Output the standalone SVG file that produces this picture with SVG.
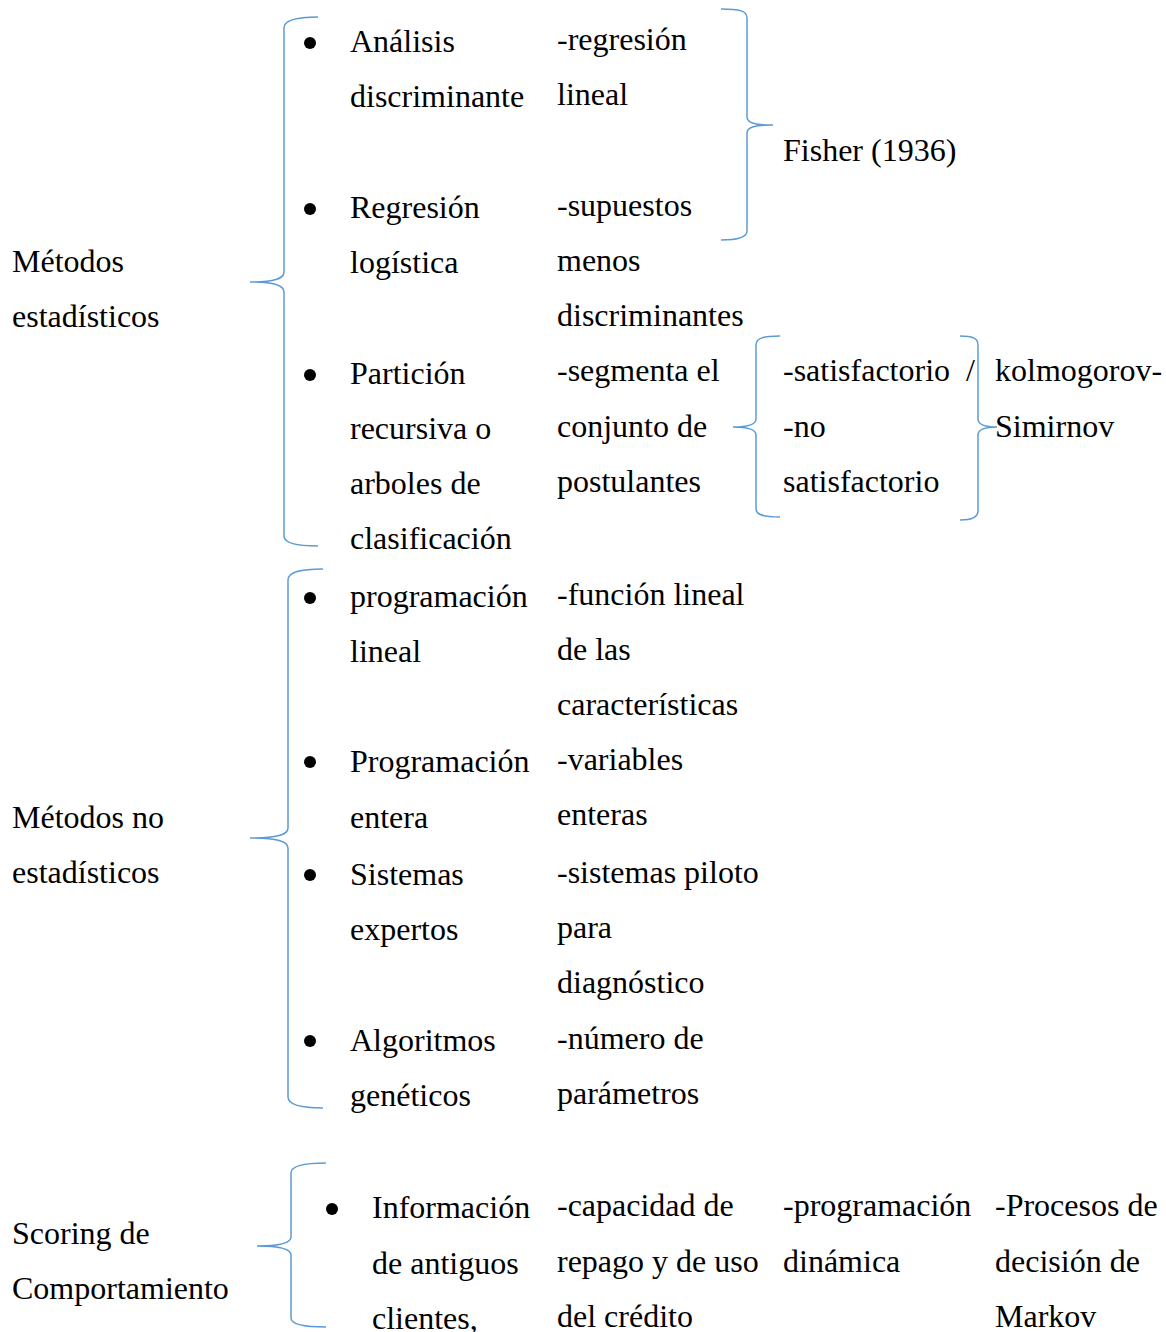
<svg xmlns="http://www.w3.org/2000/svg" width="1166" height="1332" viewBox="0 0 1166 1332">
<style>
text{font-family:"Liberation Serif","Times New Roman",serif;font-size:32px;fill:#000}
.br{fill:none;stroke:#5B9BD5;stroke-width:1.5}
.dot{fill:#000}
</style>
<rect width="1166" height="1332" fill="#fff"/>
<g id="connectors">
<path class="br" d="M318,17 C296,17 284,20 284,28 L284,272 C284,279 274,282 250,282 C274,282 284,285 284,292 L284,536 C284,543 296,546 318,546"/>
<path class="br" d="M721,9 C740,9 747,11 747,18 L747,117 C747,123 755,125 773,125 C755,125 747,127 747,133 L747,231 C747,237 740,240 721,240"/>
<path class="br" d="M780,336 C764,336 756,338 756,345 L756,419 C756,424 748,427 733,427 C748,427 756,430 756,435 L756,509 C756,515 764,517 780,517"/>
<path class="br" d="M960,336 C972,336 978,338 978,345 L978,419 C978,424 984,427 997,427 C984,427 978,430 978,435 L978,511 C978,517 972,520 960,520"/>
<path class="br" d="M323,569 C300,569 288,572 288,580 L288,828 C288,835 277,838 250,838 C277,838 288,841 288,848 L288,1097 C288,1104 300,1108 323,1108"/>
<path class="br" d="M326,1163 C303,1163 291,1166 291,1173 L291,1237 C291,1243 281,1246 257,1246 C281,1246 291,1249 291,1255 L291,1318 C291,1324 303,1327 326,1327"/>
</g>
<g id="metodos-estadisticos">
<text x="12" y="272">Métodos</text>
<text x="12" y="327">estadísticos</text>
</g>
<g id="analisis-discriminante">
<circle class="dot" cx="310" cy="43" r="6"/>
<text x="350" y="52">Análisis</text>
<text x="350" y="107">discriminante</text>
<text x="557" y="50">-regresión</text>
<text x="557" y="105">lineal</text>
</g>
<g id="fisher">
<text x="783" y="161">Fisher (1936)</text>
</g>
<g id="regresion-logistica">
<circle class="dot" cx="310" cy="209" r="6"/>
<text x="350" y="218">Regresión</text>
<text x="350" y="273">logística</text>
<text x="557" y="216">-supuestos</text>
<text x="557" y="271">menos</text>
<text x="557" y="326">discriminantes</text>
</g>
<g id="particion-recursiva">
<circle class="dot" cx="310" cy="375" r="6"/>
<text x="350" y="384">Partición</text>
<text x="350" y="439">recursiva o</text>
<text x="350" y="494">arboles de</text>
<text x="350" y="549">clasificación</text>
<text x="557" y="381">-segmenta el</text>
<text x="557" y="437">conjunto de</text>
<text x="557" y="492">postulantes</text>
</g>
<g id="satisfactorio">
<text x="783" y="381">-satisfactorio</text>
<text x="966" y="381">/</text>
<text x="783" y="437">-no</text>
<text x="783" y="492">satisfactorio</text>
</g>
<g id="kolmogorov">
<text x="995" y="381">kolmogorov-</text>
<text x="995" y="437">Simirnov</text>
</g>
<g id="metodos-no-estadisticos">
<text x="12" y="828">Métodos no</text>
<text x="12" y="883">estadísticos</text>
</g>
<g id="programacion-lineal">
<circle class="dot" cx="310" cy="598" r="6"/>
<text x="350" y="607">programación</text>
<text x="350" y="662">lineal</text>
<text x="557" y="605">-función lineal</text>
<text x="557" y="660">de las</text>
<text x="557" y="715">características</text>
</g>
<g id="programacion-entera">
<circle class="dot" cx="310" cy="762" r="6"/>
<text x="350" y="772">Programación</text>
<text x="350" y="828">entera</text>
<text x="557" y="770">-variables</text>
<text x="557" y="825">enteras</text>
</g>
<g id="sistemas-expertos">
<circle class="dot" cx="310" cy="875" r="6"/>
<text x="350" y="885">Sistemas</text>
<text x="350" y="940">expertos</text>
<text x="557" y="883">-sistemas piloto</text>
<text x="557" y="938">para</text>
<text x="557" y="993">diagnóstico</text>
</g>
<g id="algoritmos-geneticos">
<circle class="dot" cx="310" cy="1041" r="6"/>
<text x="350" y="1051">Algoritmos</text>
<text x="350" y="1106">genéticos</text>
<text x="557" y="1049">-número de</text>
<text x="557" y="1104">parámetros</text>
</g>
<g id="scoring-comportamiento">
<text x="12" y="1244">Scoring de</text>
<text x="12" y="1299">Comportamiento</text>
</g>
<g id="informacion-antiguos-clientes">
<circle class="dot" cx="332" cy="1209" r="6"/>
<text x="372" y="1218">Información</text>
<text x="372" y="1274">de antiguos</text>
<text x="372" y="1329">clientes,</text>
<text x="557" y="1216">-capacidad de</text>
<text x="557" y="1272">repago y de uso</text>
<text x="557" y="1327">del crédito</text>
</g>
<g id="programacion-dinamica">
<text x="783" y="1216">-programación</text>
<text x="783" y="1272">dinámica</text>
</g>
<g id="procesos-markov">
<text x="995" y="1216">-Procesos de</text>
<text x="995" y="1272">decisión de</text>
<text x="995" y="1327">Markov</text>
</g>
</svg>
